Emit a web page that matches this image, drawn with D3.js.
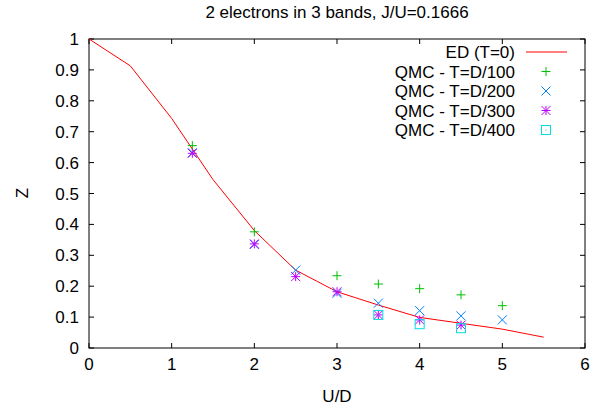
<!DOCTYPE html>
<html>
<head>
<meta charset="utf-8">
<script src="https://cdn.jsdelivr.net/npm/d3@7"></script>
<style>
  body { margin: 0; background: white; }
  text { font-family: "Liberation Sans", Arial, sans-serif; fill: #000; font-size: 17px; }
</style>
</head>
<body>
<div id="chart"></div>
<script>
// ED curve (T=0)
var edU = [0, 0.5, 1, 1.5, 2, 2.5, 3, 3.5, 4, 4.5, 5, 5.5];
var edZ = [1, 0.913, 0.743, 0.545, 0.38, 0.252, 0.182, 0.139, 0.099, 0.080, 0.061, 0.035];

// QMC points
var qmc100U = [1.25, 2, 3, 3.5, 4, 4.5, 5];
var qmc100Z = [0.655, 0.376, 0.234, 0.207, 0.192, 0.172, 0.137];
var qmc200U = [1.25, 2, 2.5, 3, 3.5, 4, 4.5, 5];
var qmc200Z = [0.632, 0.335, 0.252, 0.177, 0.145, 0.121, 0.104, 0.091];
var qmc300U = [1.25, 2, 2.5, 3, 3.5, 4, 4.5];
var qmc300Z = [0.630, 0.337, 0.231, 0.182, 0.107, 0.091, 0.074];
var qmc400U = [3.5, 4, 4.5];
var qmc400Z = [0.107, 0.077, 0.064];

var xTicks = [0, 1, 2, 3, 4, 5, 6];
var yTicks = [0, 0.1, 0.2, 0.3, 0.4, 0.5, 0.6, 0.7, 0.8, 0.9, 1];

var width = 611, height = 412;
var pLeft = 89, pRight = 585, pTop = 39, pBottom = 348;

var x = d3.scaleLinear().domain([0, 6]).range([pLeft, pRight]);
var y = d3.scaleLinear().domain([0, 1]).range([pBottom, pTop]);

var svg = d3.select('#chart').append('svg')
    .attr('width', width)
    .attr('height', height);

// ticks on all four sides, pointing inward
var tk = 5;
xTicks.forEach(function(t) {
  svg.append('line').attr('x1', x(t)).attr('x2', x(t)).attr('y1', pBottom).attr('y2', pBottom - tk).attr('stroke', '#000');
  svg.append('line').attr('x1', x(t)).attr('x2', x(t)).attr('y1', pTop).attr('y2', pTop + tk).attr('stroke', '#000');
  svg.append('text').attr('x', x(t)).attr('y', pBottom + 22)
    .attr('text-anchor', 'middle').text(t);
});
yTicks.forEach(function(t) {
  svg.append('line').attr('x1', pLeft).attr('x2', pLeft + tk).attr('y1', y(t)).attr('y2', y(t)).attr('stroke', '#000');
  svg.append('line').attr('x1', pRight).attr('x2', pRight - tk).attr('y1', y(t)).attr('y2', y(t)).attr('stroke', '#000');
  svg.append('text').attr('x', pLeft - 10).attr('y', y(t) + 6)
    .attr('text-anchor', 'end').text(t);
});

svg.append('rect')
    .attr('x', pLeft).attr('y', pTop)
    .attr('width', pRight - pLeft).attr('height', pBottom - pTop)
    .attr('fill', 'none').attr('stroke', '#000').attr('stroke-width', 1);

// titles
svg.append('text').attr('x', (pLeft + pRight) / 2).attr('y', 18)
  .attr('text-anchor', 'middle')
  .text('2 electrons in 3 bands, J/U=0.1666');
svg.append('text').attr('x', (pLeft + pRight) / 2).attr('y', 402)
  .attr('text-anchor', 'middle').text('U/D');
svg.append('text').attr('transform', 'translate(28,193) rotate(-90)')
  .attr('text-anchor', 'middle').text('Z');

// ED line
var line = d3.line()
    .x(function(d) { return x(d[0]); })
    .y(function(d) { return y(d[1]); });

svg.append('path')
    .datum(d3.zip(edU, edZ))
    .attr('d', line)
    .attr('fill', 'none')
    .attr('stroke', '#ff0000')
    .attr('stroke-width', 1);

// point symbols
var s = 4.5;
function drawPoint(g, px, py, type, color) {
  if (type == 'plus' || type == 'star') {
    g.append('path').attr('d', 'M' + (px - s) + ',' + py + 'H' + (px + s) + 'M' + px + ',' + (py - s) + 'V' + (py + s))
      .attr('stroke', color).attr('fill', 'none');
  }
  if (type == 'cross' || type == 'star') {
    g.append('path').attr('d', 'M' + (px - s) + ',' + (py - s) + 'L' + (px + s) + ',' + (py + s) +
        'M' + (px - s) + ',' + (py + s) + 'L' + (px + s) + ',' + (py - s))
      .attr('stroke', color).attr('fill', 'none');
  }
  if (type == 'square') {
    g.append('rect').attr('x', px - s).attr('y', py - s).attr('width', 2 * s).attr('height', 2 * s)
      .attr('stroke', color).attr('fill', 'none');
    g.append('rect').attr('x', px - 0.5).attr('y', py - 0.5).attr('width', 1).attr('height', 1)
      .attr('fill', color);
  }
}

var series = [
  { name: 'QMC - T=D/100', u: qmc100U, z: qmc100Z, type: 'plus', color: '#00c000' },
  { name: 'QMC - T=D/200', u: qmc200U, z: qmc200Z, type: 'cross', color: '#0080ff' },
  { name: 'QMC - T=D/300', u: qmc300U, z: qmc300Z, type: 'star', color: '#c000ff' },
  { name: 'QMC - T=D/400', u: qmc400U, z: qmc400Z, type: 'square', color: '#00e0e0' }
];

series.forEach(function(se) {
  var g = svg.append('g');
  se.u.forEach(function(u, i) {
    drawPoint(g, x(u), y(se.z[i]), se.type, se.color);
  });
});

// legend
var legX = 515, legY = 52, legStep = 19.5;
svg.append('text').attr('x', legX).attr('y', legY + 6)
  .attr('text-anchor', 'end').text('ED (T=0)');
svg.append('line').attr('x1', 526).attr('x2', 567).attr('y1', legY).attr('y2', legY)
  .attr('stroke', '#ff0000');
series.forEach(function(se, i) {
  var ly = legY + (i + 1) * legStep;
  svg.append('text').attr('x', legX).attr('y', ly + 6)
    .attr('text-anchor', 'end').text(se.name);
  drawPoint(svg.append('g'), 546, ly, se.type, se.color);
});
</script>
</body>
</html>
